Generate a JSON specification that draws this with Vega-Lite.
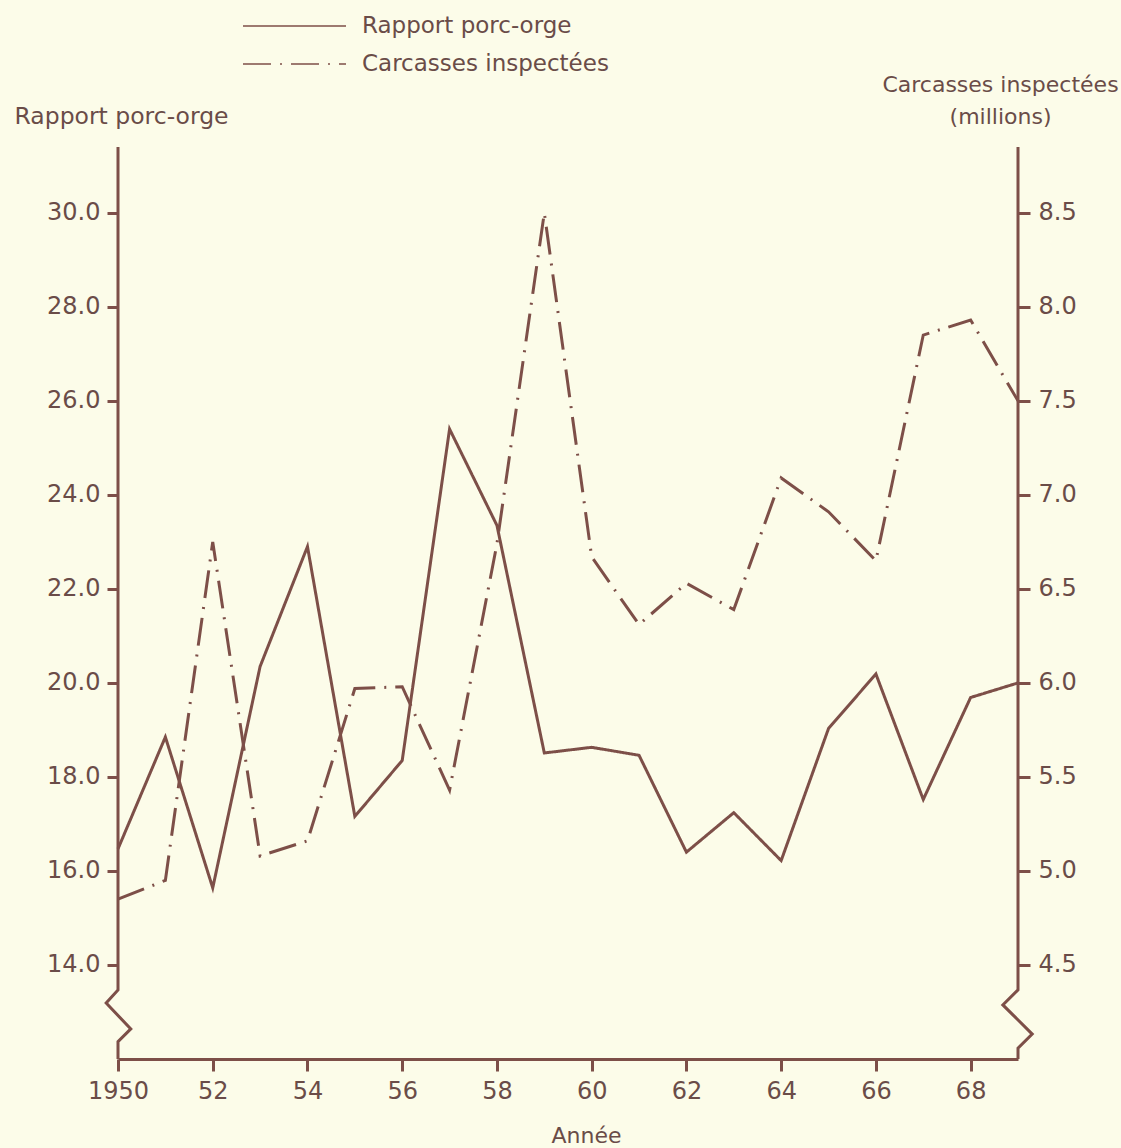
{
  "$schema": "https://vega.github.io/schema/vega-lite/v6.json",
  "width": 900,
  "height": 912,
  "autosize": {"type": "none"},
  "padding": {"left": 118, "top": 147, "right": 103, "bottom": 89},
  "background": "#fcfce9",
  "config": {
    "view": {"stroke": null},
    "font": "DejaVu Sans",
    "axis": {
      "grid": false,
      "labelFont": "DejaVu Sans",
      "titleFont": "DejaVu Sans",
      "labelColor": "#6a4c48",
      "titleColor": "#6a4c48",
      "tickColor": "#7d4f48",
      "domainColor": "#7d4f48",
      "tickWidth": 3,
      "domainWidth": 3,
      "titleFontWeight": "normal",
      "titleFontSize": 23,
      "labelFontSize": 24
    },
    "legend": {
      "labelFont": "DejaVu Sans"
    }
  },
  "datasets": {
    "series": [
      {"year": 1950, "ratio": 16.47, "carcasses": 4.85},
      {"year": 1951, "ratio": 18.85, "carcasses": 4.95},
      {"year": 1952, "ratio": 15.64, "carcasses": 6.75},
      {"year": 1953, "ratio": 20.35, "carcasses": 5.08},
      {"year": 1954, "ratio": 22.9, "carcasses": 5.16},
      {"year": 1955, "ratio": 17.16, "carcasses": 5.97},
      {"year": 1956, "ratio": 18.35, "carcasses": 5.98},
      {"year": 1957, "ratio": 25.4, "carcasses": 5.43},
      {"year": 1958, "ratio": 23.35, "carcasses": 6.74},
      {"year": 1959, "ratio": 18.51, "carcasses": 8.5},
      {"year": 1960, "ratio": 18.63, "carcasses": 6.67},
      {"year": 1961, "ratio": 18.46, "carcasses": 6.31},
      {"year": 1962, "ratio": 16.4, "carcasses": 6.53},
      {"year": 1963, "ratio": 17.24, "carcasses": 6.39},
      {"year": 1964, "ratio": 16.22, "carcasses": 7.09},
      {"year": 1965, "ratio": 19.03, "carcasses": 6.91},
      {"year": 1966, "ratio": 20.19, "carcasses": 6.65},
      {"year": 1967, "ratio": 17.52, "carcasses": 7.85},
      {"year": 1968, "ratio": 19.69, "carcasses": 7.93},
      {"year": 1969, "ratio": 20.0, "carcasses": 7.5}
    ],
    "axisLines": [
      {"axis": "left", "i": 0, "year": 1950, "value": 31.4},
      {"axis": "left", "i": 1, "year": 1950, "value": 13.47},
      {"axis": "left", "i": 2, "year": 1949.75, "value": 13.19},
      {"axis": "left", "i": 3, "year": 1950.27, "value": 12.64},
      {"axis": "left", "i": 4, "year": 1950, "value": 12.37},
      {"axis": "left", "i": 5, "year": 1950, "value": 12.0},
      {"axis": "right", "i": 0, "year": 1969, "value": 31.4},
      {"axis": "right", "i": 1, "year": 1969, "value": 13.47},
      {"axis": "right", "i": 2, "year": 1968.68, "value": 13.15},
      {"axis": "right", "i": 3, "year": 1969.3, "value": 12.53},
      {"axis": "right", "i": 4, "year": 1969, "value": 12.23},
      {"axis": "right", "i": 5, "year": 1969, "value": 12.0}
    ]
  },
  "layer": [
    {
      "data": {"name": "series"},
      "mark": {"type": "line", "color": "#7d4f48", "strokeWidth": 3, "strokeJoin": "miter"},
      "encoding": {
        "x": {
          "field": "year", "type": "quantitative",
          "scale": {"domain": [1950, 1969], "nice": false, "zero": false},
          "axis": {
            "values": [1950, 1952, 1954, 1956, 1958, 1960, 1962, 1964, 1966, 1968],
            "format": "d",
            "labelExpr": "datum.value == 1950 ? datum.label : substring(datum.label, 2, 4)",
            "tickSize": 12,
            "labelPadding": 8,
            "labelFlush": false,
            "title": "Année",
            "titleX": 468,
            "titleY": 76,
            "titleAlign": "center",
            "titleBaseline": "middle",
            "titleFontSize": 22
          }
        },
        "y": {
          "field": "ratio", "type": "quantitative",
          "scale": {"domain": [12, 31.4], "nice": false, "zero": false},
          "axis": {
            "values": [14, 16, 18, 20, 22, 24, 26, 28, 30],
            "format": ".1f",
            "domain": false,
            "tickSize": 11,
            "labelPadding": 7,
            "title": "Rapport porc-orge",
            "titleAngle": 0,
            "titleAlign": "left",
            "titleBaseline": "middle",
            "titleX": -104,
            "titleY": -31,
            "titleFontSize": 23.5
          }
        },
        "strokeDash": {
          "datum": "Rapport porc-orge",
          "type": "nominal",
          "scale": {"domain": ["Rapport porc-orge", "Carcasses inspectées"], "range": [[1, 0], [28, 9, 2, 9]]},
          "legend": {
            "orient": "none",
            "legendX": 124,
            "legendY": -133,
            "title": null,
            "padding": 0,
            "symbolType": "stroke",
            "symbolSize": 10609,
            "clipHeight": 24,
            "rowPadding": 14,
            "labelOffset": 15,
            "symbolStrokeWidth": 1.5,
            "symbolStrokeColor": "#7d4f48",
            "symbolOffset": 0,
            "labelFontSize": 23,
            "labelColor": "#6a4c48",
            "labelLimit": 400
          }
        }
      }
    },
    {
      "data": {"name": "series"},
      "mark": {"type": "line", "color": "#7d4f48", "strokeWidth": 3},
      "encoding": {
        "x": {"field": "year", "type": "quantitative"},
        "y": {
          "field": "carcasses", "type": "quantitative",
          "scale": {"domain": [4.0, 8.85], "nice": false, "zero": false},
          "axis": {
            "orient": "right",
            "values": [4.5, 5, 5.5, 6, 6.5, 7, 7.5, 8, 8.5],
            "format": ".1f",
            "domain": false,
            "tickSize": 12,
            "labelPadding": 8,
            "title": ["Carcasses inspectées", "(millions)"],
            "titleAngle": 0,
            "titleAlign": "center",
            "titleBaseline": "middle",
            "titleLineHeight": 32,
            "titleFontSize": 22,
            "titleX": -18,
            "titleY": -63
          }
        },
        "strokeDash": {"datum": "Carcasses inspectées", "type": "nominal"}
      }
    },
    {
      "data": {"name": "axisLines"},
      "mark": {"type": "line", "color": "#7d4f48", "strokeWidth": 3, "strokeJoin": "miter"},
      "encoding": {
        "x": {"field": "year", "type": "quantitative"},
        "y": {
          "field": "value", "type": "quantitative",
          "scale": {"domain": [12, 31.4], "nice": false, "zero": false},
          "axis": null
        },
        "detail": {"field": "axis"},
        "order": {"field": "i"}
      }
    }
  ],
  "resolve": {"scale": {"y": "independent"}}
}
